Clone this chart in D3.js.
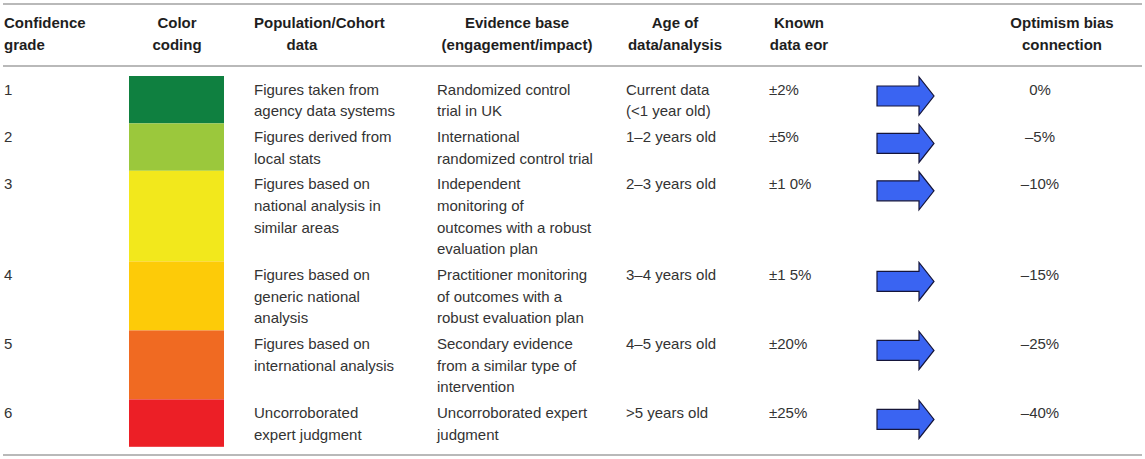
<!DOCTYPE html>
<html>
<head>
<meta charset="utf-8">
<script src="https://cdn.jsdelivr.net/npm/d3@7"></script>
<style>
  body { margin: 0; background: #fff; }
  text { font-family: "Liberation Sans", Arial, Helvetica, sans-serif; }
</style>
</head>
<body>
<div id="table-container"></div>
<script>
// table content
const grades = ["1", "2", "3", "4", "5", "6"];
const gradeColors = ["#0f8040", "#9bc83c", "#f2e81c", "#fdcb08", "#f06a22", "#ec1f26"];
const populationData = [
  ["Figures taken from", "agency data systems"],
  ["Figures derived from", "local stats"],
  ["Figures based on", "national analysis in", "similar areas"],
  ["Figures based on", "generic national", "analysis"],
  ["Figures based on", "international analysis"],
  ["Uncorroborated", "expert judgment"],
];
const evidenceBase = [
  ["Randomized control", "trial in UK"],
  ["International", "randomized control trial"],
  ["Independent", "monitoring of", "outcomes with a robust", "evaluation plan"],
  ["Practitioner monitoring", "of outcomes with a", "robust evaluation plan"],
  ["Secondary evidence", "from a similar type of", "intervention"],
  ["Uncorroborated expert", "judgment"],
];
const dataAge = [
  ["Current data", "(<1 year old)"],
  ["1–2 years old"],
  ["2–3 years old"],
  ["3–4 years old"],
  ["4–5 years old"],
  [">5 years old"],
];
const dataError = ["±2%", "±5%", "±1 0%", "±1 5%", "±20%", "±25%"];
const optimismBias = ["0%", "–5%", "–10%", "–15%", "–25%", "–40%"];

const headers = [
  { lines: ["Confidence", "grade"], x: 4, anchor: "start" },
  { lines: ["Color", "coding"], x: 177, anchor: "middle" },
  { lines: ["Population/Cohort"], x: 254, anchor: "start" },
  { lines: ["", "data"], x: 302, anchor: "middle" },
  { lines: ["Evidence base", "(engagement/impact)"], x: 517, anchor: "middle" },
  { lines: ["Age of", "data/analysis"], x: 675, anchor: "middle" },
  { lines: ["Known", "data eor"], x: 799, anchor: "middle" },
  { lines: ["Optimism bias", "connection"], x: 1062, anchor: "middle" },
];

const width = 1145;
const height = 459;
const lineH = 21.6;
const rowPad = 4.2;
const tableTop = 76;

const svg = d3
  .select("#table-container")
  .append("svg")
  .attr("width", width)
  .attr("height", height);

// rows: height depends on the tallest cell
const rows = grades.map((g, i) => {
  const nLines = d3.max([populationData[i], evidenceBase[i], dataAge[i]], (c) => c.length);
  return { grade: g, i, nLines };
});
const rowHeights = rows.map((r) => r.nLines * lineH + rowPad);
const rowTops = [tableTop, ...d3.cumsum(rowHeights).map((s) => tableTop + s)];
rows.forEach((r, i) => {
  r.top = rowTops[i];
  r.height = rowHeights[i];
});

const color = d3.scaleOrdinal().domain(grades).range(gradeColors);
const y = d3.scaleOrdinal().domain(grades).range(rows.map((r) => r.top));

// horizontal rules
svg
  .selectAll("line.rule")
  .data([4, 66, 455])
  .enter()
  .append("line")
  .attr("class", "rule")
  .attr("x1", 3)
  .attr("x2", 1142)
  .attr("y1", (d) => d)
  .attr("y2", (d) => d)
  .attr("stroke", "#b9b9b9")
  .attr("stroke-width", 2);

// header
const head = svg
  .selectAll("g.head")
  .data(headers)
  .enter()
  .append("g")
  .attr("class", "head");

head
  .selectAll("text")
  .data((d) => d.lines.map((l, k) => ({ l, k, x: d.x, anchor: d.anchor })))
  .enter()
  .append("text")
  .attr("x", (d) => d.x)
  .attr("y", (d) => 28 + d.k * 22)
  .attr("text-anchor", (d) => d.anchor)
  .style("font-size", "15px")
  .style("font-weight", "bold")
  .attr("fill", "#1e1e1e")
  .text((d) => d.l);

// color swatches
svg
  .selectAll("rect.swatch")
  .data(rows)
  .enter()
  .append("rect")
  .attr("class", "swatch")
  .attr("x", 129)
  .attr("y", (d) => y(d.grade))
  .attr("width", 95)
  .attr("height", (d) => d.height)
  .attr("fill", (d) => color(d.grade));

// body cells
function cellText(lines, x, anchor) {
  const g = svg.append("g");
  g.selectAll("g")
    .data(rows)
    .enter()
    .append("g")
    .selectAll("text")
    .data((r) => lines(r).map((l, k) => ({ l, k, top: y(r.grade) })))
    .enter()
    .append("text")
    .attr("x", x)
    .attr("y", (d) => d.top + 18.5 + d.k * lineH)
    .attr("text-anchor", anchor)
    .style("font-size", "15px")
    .attr("fill", "#333")
    .text((d) => d.l);
}

cellText((r) => [r.grade], 4, "start");
cellText((r) => populationData[r.i], 254, "start");
cellText((r) => evidenceBase[r.i], 437, "start");
cellText((r) => dataAge[r.i], 626, "start");
cellText((r) => [dataError[r.i]], 769, "start");
cellText((r) => [optimismBias[r.i]], 1040, "middle");

// arrows
const arrow = (cy) =>
  `M877,${cy - 10}L919,${cy - 10}L919,${cy - 19}L934,${cy}L919,${cy + 19}L919,${cy + 10}L877,${cy + 10}Z`;

svg
  .selectAll("path.arrow")
  .data(rows)
  .enter()
  .append("path")
  .attr("class", "arrow")
  .attr("d", (d) => arrow(y(d.grade) + 20))
  .attr("fill", "#3a64f2")
  .attr("stroke", "#15153a")
  .attr("stroke-width", 1.2)
  .attr("stroke-linejoin", "miter");
</script>
</body>
</html>
